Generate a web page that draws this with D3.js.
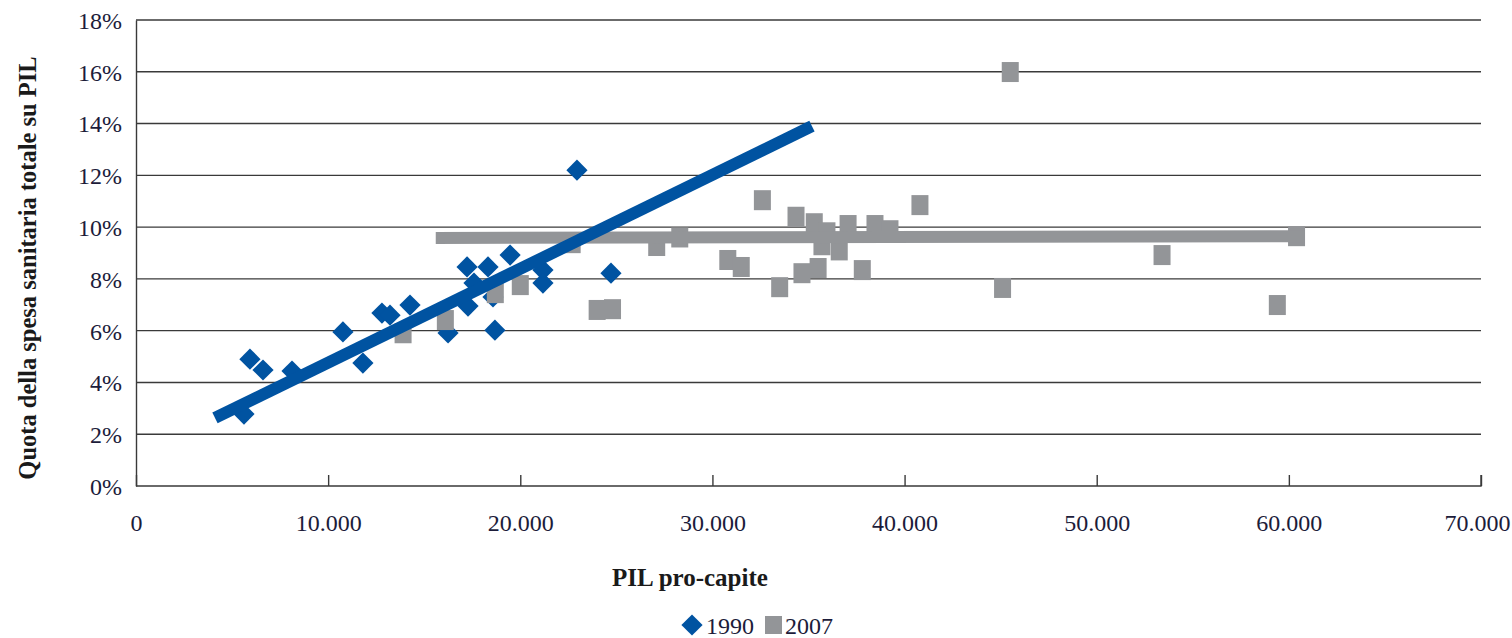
<!DOCTYPE html>
<html>
<head>
<meta charset="utf-8">
<script src="https://cdn.jsdelivr.net/npm/d3@7"></script>
<style>
  body { margin: 0; background: #fff; }
  text { font-family: "Liberation Serif", "Times New Roman", serif; }
</style>
</head>
<body>
<div id="chart"></div>
<script>
// PIL pro-capite (x) vs quota spesa sanitaria su PIL (y, %)
var pil1990 = [5620, 5930, 6610, 8120, 10770, 11810, 12800, 13220, 14260, 16240,
               17230, 17280, 17590, 18320, 18580, 18680, 19470, 21180, 21180, 22950, 24720];
var quota1990 = [2.78, 4.90, 4.48, 4.44, 5.95, 4.75, 6.68, 6.60, 6.99, 5.91,
                 8.46, 6.95, 7.84, 8.46, 7.30, 6.02, 8.92, 8.34, 7.84, 12.2, 8.22];

var pil2007 = [13900, 16100, 18700, 20000, 22700, 24000, 24800, 27100, 28300, 30800,
               31500, 32600, 33500, 34350, 34660, 35300, 35500, 35700, 35960, 36600,
               37060, 37800, 38460, 39240, 40800, 45100, 45500, 53400, 59400, 60400];
var quota2007 = [5.90, 6.41, 7.45, 7.76, 9.38, 6.80, 6.83, 9.27, 9.60, 8.73,
                 8.46, 11.04, 7.68, 10.40, 8.22, 10.15, 8.42, 9.30, 9.80, 9.10,
                 10.08, 8.34, 10.08, 9.88, 10.85, 7.65, 15.99, 8.92, 6.99, 9.65];

// trend lines (endpoints)
var trend1990 = [[4110, 2.63], [35180, 13.9]];
var trend2007 = [[15600, 9.58], [60800, 9.65]];

var xTicks = [0, 10000, 20000, 30000, 40000, 50000, 60000, 70000];
var yTicks = [0, 2, 4, 6, 8, 10, 12, 14, 16, 18];
var seriesNames = ["1990", "2007"];

var W = 1512, H = 638;
var margin = {top: 20, right: 31, bottom: 152, left: 136};
var width = W - margin.left - margin.right,
    height = H - margin.top - margin.bottom;

var blue = "#0053a1", grey = "#939598", ink = "#1c1c3a";

var svg = d3.select("#chart").append("svg")
    .attr("width", W).attr("height", H);
var g = svg.append("g")
    .attr("transform", "translate(" + margin.left + "," + margin.top + ")");

var xScale = d3.scaleLinear().domain([0, 70000]).range([0, width]);
var yScale = d3.scaleLinear().domain([0, 18]).range([height, 0]);

var fmtX = function(d) { return d === 0 ? "0" : d3.format(",")(d).replace(/,/g, "."); };

// gridlines
g.append("g").selectAll("line").data(yTicks.filter(function(d) { return d > 0; })).enter()
    .append("line")
    .attr("x1", 0).attr("x2", width)
    .attr("y1", function(d) { return yScale(d); })
    .attr("y2", function(d) { return yScale(d); })
    .style("stroke", "#3a3a3a").style("stroke-width", 1.4);

// axes
var xAxis = d3.axisBottom(xScale).tickValues(xTicks).tickSize(-11).tickFormat(fmtX);
var yAxis = d3.axisLeft(yScale).tickValues(yTicks).tickSize(0)
    .tickFormat(function(d) { return d + "%"; });

var xAxisG = g.append("g").attr("transform", "translate(0," + height + ")").call(xAxis);
var yAxisG = g.append("g").call(yAxis);

xAxisG.select(".domain").attr("d", "M0,0H" + width + "V-11");
[xAxisG, yAxisG].forEach(function(a) {
    a.attr("font-size", null).attr("font-family", null);
    a.selectAll(".domain, .tick line").style("stroke", "#3a3a3a").style("stroke-width", 1.4);
    a.selectAll("text").style("font-size", "24px").style("fill", ink)
        .style("font-family", "Liberation Serif, serif");
});
xAxisG.selectAll(".tick line").attr("y1", 0);
xAxisG.selectAll("text").attr("dy", "0").attr("y", 45)
    .attr("x", function(d) { return d === 70000 ? -4 : 0; });
yAxisG.selectAll("text").attr("x", -14).attr("dy", "0.35em");

// markers 1990 (diamonds)
var data1990 = pil1990.map(function(x, i) { return [x, quota1990[i]]; });
var data2007 = pil2007.map(function(x, i) { return [x, quota2007[i]]; });

g.append("g").selectAll("rect").data(data1990).enter()
    .append("rect")
    .attr("x", -7.5).attr("y", -7.5).attr("width", 15).attr("height", 15)
    .attr("transform", function(d) {
        return "translate(" + xScale(d[0]) + "," + yScale(d[1]) + ") rotate(45)";
    })
    .style("fill", blue);

// markers 2007 (squares)
g.append("g").selectAll("rect").data(data2007).enter()
    .append("rect")
    .attr("x", function(d) { return xScale(d[0]) - 8.5; })
    .attr("y", function(d) { return yScale(d[1]) - 10; })
    .attr("width", 17).attr("height", 20)
    .style("fill", grey);

// trend lines
var line = d3.line()
    .x(function(d) { return xScale(d[0]); })
    .y(function(d) { return yScale(d[1]); });

g.append("path").datum(trend2007).attr("d", line)
    .style("stroke", grey).style("stroke-width", 12).style("fill", "none");
g.append("path").datum(trend1990).attr("d", line)
    .style("stroke", blue).style("stroke-width", 12).style("fill", "none");

// axis titles
svg.append("text")
    .attr("transform", "translate(36,268) rotate(-90)")
    .attr("text-anchor", "middle")
    .style("font-size", "24.5px").style("font-weight", "bold").style("fill", "#1a1a1a")
    .text("Quota della spesa sanitaria totale su PIL");

svg.append("text")
    .attr("x", 690).attr("y", 586)
    .attr("text-anchor", "middle")
    .style("font-size", "25px").style("font-weight", "bold").style("fill", "#1a1a1a")
    .text("PIL pro-capite");

// legend
var legend = svg.append("g").attr("transform", "translate(0,625)");
legend.append("rect")
    .attr("x", -7.5).attr("y", -7.5).attr("width", 15).attr("height", 15)
    .attr("transform", "translate(692,0) rotate(45)")
    .style("fill", blue);
legend.append("text").attr("x", 706).attr("y", 9)
    .style("font-size", "24px").style("fill", ink).text(seriesNames[0]);
legend.append("rect")
    .attr("x", 765).attr("y", -9).attr("width", 17).attr("height", 18)
    .style("fill", grey);
legend.append("text").attr("x", 785).attr("y", 9)
    .style("font-size", "24px").style("fill", ink).text(seriesNames[1]);
</script>
</body>
</html>
